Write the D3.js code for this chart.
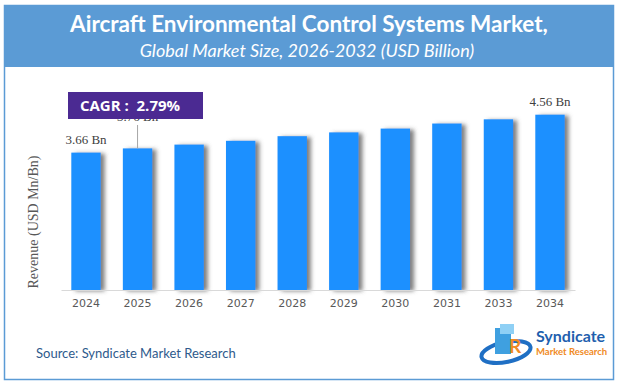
<!DOCTYPE html>
<html>
<head>
<meta charset="utf-8">
<script src="https://cdn.jsdelivr.net/npm/d3@7"></script>
<style>
  body { margin: 0; background: #fff; }
</style>
</head>
<body>
<div id="chart"></div>
<script>
(function (d3) {
    'use strict';

    // Data.
    var years = ['2024', '2025', '2026', '2027', '2028', '2029', '2030', '2031', '2033', '2034'];
    var revenue = [3.66, 3.76, 3.85, 3.94, 4.05, 4.14, 4.23, 4.35, 4.45, 4.56];
    var labelled = ['2024', '2025', '2034'];
    var cagrText = 'CAGR :  2.79%';

    var W = 620, H = 386;
    var baseY = 290;

    var svg = d3.select('#chart').append('svg')
        .attr('width', W)
        .attr('height', H);

    var defs = svg.append('defs');

    var shadow = defs.append('filter')
        .attr('id', 'shadow')
        .attr('x', '-20%').attr('y', '-10%')
        .attr('width', '160%').attr('height', '130%');
    shadow.append('feDropShadow')
        .attr('dx', 4).attr('dy', 1)
        .attr('stdDeviation', 2)
        .attr('flood-color', '#555')
        .attr('flood-opacity', 0.75);

    var fade = defs.append('linearGradient')
        .attr('id', 'fade')
        .attr('x1', '0%').attr('x2', '100%');
    fade.append('stop').attr('offset', '0%').attr('stop-color', '#ed7d31').attr('stop-opacity', 1);
    fade.append('stop').attr('offset', '60%').attr('stop-color', '#ed7d31').attr('stop-opacity', 0.9);
    fade.append('stop').attr('offset', '100%').attr('stop-color', '#ed7d31').attr('stop-opacity', 0.25);

    // Frame and header band
    svg.append('rect')
        .attr('x', 4.5).attr('y', 5.5)
        .attr('width', 609).attr('height', 374)
        .attr('fill', '#fff')
        .attr('stroke', '#5b9bd5')
        .attr('stroke-width', 1.5);

    svg.append('rect')
        .attr('x', 4).attr('y', 5)
        .attr('width', 610).attr('height', 62)
        .attr('fill', '#5b9bd5');

    svg.append('text')
        .attr('x', 309).attr('y', 32)
        .attr('text-anchor', 'middle')
        .style('font-family', 'Lato, sans-serif')
        .style('font-weight', 'bold')
        .style('font-size', '22.5px')
        .attr('fill', '#fff')
        .text('Aircraft Environmental Control Systems Market,');

    svg.append('text')
        .attr('x', 307).attr('y', 57)
        .attr('text-anchor', 'middle')
        .style('font-family', 'Lato, sans-serif')
        .style('font-style', 'italic')
        .style('font-size', '18px')
        .attr('fill', '#fff')
        .text('Global Market Size, 2026-2032 (USD Billion)');

    svg.append('line')
        .attr('x1', 38).attr('x2', 578)
        .attr('y1', 74.5).attr('y2', 74.5)
        .attr('stroke', 'url(#fade)')
        .attr('stroke-width', 1.5)
        .attr('stroke-dasharray', '4,3');

    // Scales
    var x = d3.scaleBand()
        .domain(years)
        .range([61, 575])
        .paddingInner(0.43)
        .paddingOuter(0.2);

    var y = d3.scaleLinear()
        .domain([0.4, 4.6])
        .range([baseY, 113]);

    var plot = svg.append('g');

    plot.selectAll('.bar')
        .data(years)
        .enter()
        .append('rect')
        .attr('class', 'bar')
        .attr('x', function (d) { return x(d); })
        .attr('width', x.bandwidth())
        .attr('y', function (d, i) { return y(revenue[i]); })
        .attr('height', function (d, i) { return baseY - y(revenue[i]); })
        .attr('fill', '#1e90ff')
        .attr('filter', 'url(#shadow)');

    // x-axis
    var xAxis = plot.append('g')
        .attr('transform', 'translate(0,' + baseY + ')')
        .call(d3.axisBottom(x).tickSize(0).tickPadding(9));
    xAxis.select('.domain')
        .attr('stroke', '#d9d9d9')
        .attr('stroke-width', 1.2);
    xAxis.selectAll('text')
        .style('font-family', '"DejaVu Sans", Verdana, sans-serif')
        .style('font-size', '11px')
        .attr('fill', '#595959');

    // y-axis title
    svg.append('text')
        .attr('transform', 'translate(38,222) rotate(-90)')
        .attr('text-anchor', 'middle')
        .style('font-family', '"Liberation Serif", serif')
        .style('font-size', '14px')
        .attr('fill', '#595959')
        .text('Revenue (USD Mn/Bn)');

    // CAGR box
    svg.append('rect')
        .attr('x', 68).attr('y', 92)
        .attr('width', 135).attr('height', 27)
        .attr('fill', '#4b2a92');

    svg.append('text')
        .attr('x', 130).attr('y', 111)
        .attr('text-anchor', 'middle')
        .style('font-family', '"Open Sans", sans-serif')
        .style('font-weight', 'bold')
        .style('font-size', '15px')
        .attr('fill', '#fff')
        .attr('xml:space', 'preserve')
        .text(cagrText);

    // value labels (2025's label sits partly under the CAGR box, as in the source)
    var labelled2025 = years[1];
    plot.append('line')
        .attr('x1', x(labelled2025) + x.bandwidth() / 2)
        .attr('x2', x(labelled2025) + x.bandwidth() / 2)
        .attr('y1', 125)
        .attr('y2', y(revenue[1]))
        .attr('stroke', '#a6a6a6')
        .attr('stroke-width', 1);

    plot.selectAll('.val')
        .data(years.filter(function (d) { return labelled.indexOf(d) >= 0; }))
        .enter()
        .append('text')
        .attr('class', 'val')
        .attr('x', function (d) { return x(d) + x.bandwidth() / 2; })
        .attr('y', function (d) {
            var v = revenue[years.indexOf(d)];
            return d === '2025' ? 121 : y(v) - 9;
        })
        .attr('text-anchor', 'middle')
        .style('font-family', '"Liberation Serif", serif')
        .style('font-size', '13px')
        .attr('fill', '#404040')
        .text(function (d) { return revenue[years.indexOf(d)].toFixed(2) + ' Bn'; });

    // source
    svg.append('text')
        .attr('x', 36).attr('y', 358)
        .style('font-family', 'Lato, sans-serif')
        .style('font-size', '13px')
        .attr('fill', '#2e5a8c')
        .text('Source: Syndicate Market Research');

    // logo
    var logo = svg.append('g').attr('transform', 'translate(480,322)');
    logo.append('ellipse')
        .attr('cx', 26).attr('cy', 30)
        .attr('rx', 25).attr('ry', 10)
        .attr('fill', 'none')
        .attr('stroke', '#1f6fc4')
        .attr('stroke-width', 4)
        .attr('transform', 'rotate(-12,26,30)');
    logo.append('rect')
        .attr('x', 15).attr('y', 6)
        .attr('width', 16).attr('height', 26)
        .attr('fill', '#3fa0e0');
    logo.append('rect')
        .attr('x', 20).attr('y', 2)
        .attr('width', 14).attr('height', 10)
        .attr('fill', '#8fd0f5');
    logo.append('text')
        .attr('x', 29).attr('y', 31)
        .style('font-family', 'Lato, sans-serif')
        .style('font-weight', 'bold')
        .style('font-size', '19px')
        .attr('fill', '#f08a24')
        .text('R');
    logo.append('text')
        .attr('x', 56).attr('y', 20)
        .style('font-family', 'Lato, sans-serif')
        .style('font-weight', 'bold')
        .style('font-size', '16px')
        .attr('fill', '#1f5fae')
        .text('Syndicate');
    logo.append('text')
        .attr('x', 56).attr('y', 33)
        .style('font-family', 'Lato, sans-serif')
        .style('font-weight', 'bold')
        .style('font-size', '9.5px')
        .attr('fill', '#f08a24')
        .text('Market Research');
})(d3);
</script>
</body>
</html>
